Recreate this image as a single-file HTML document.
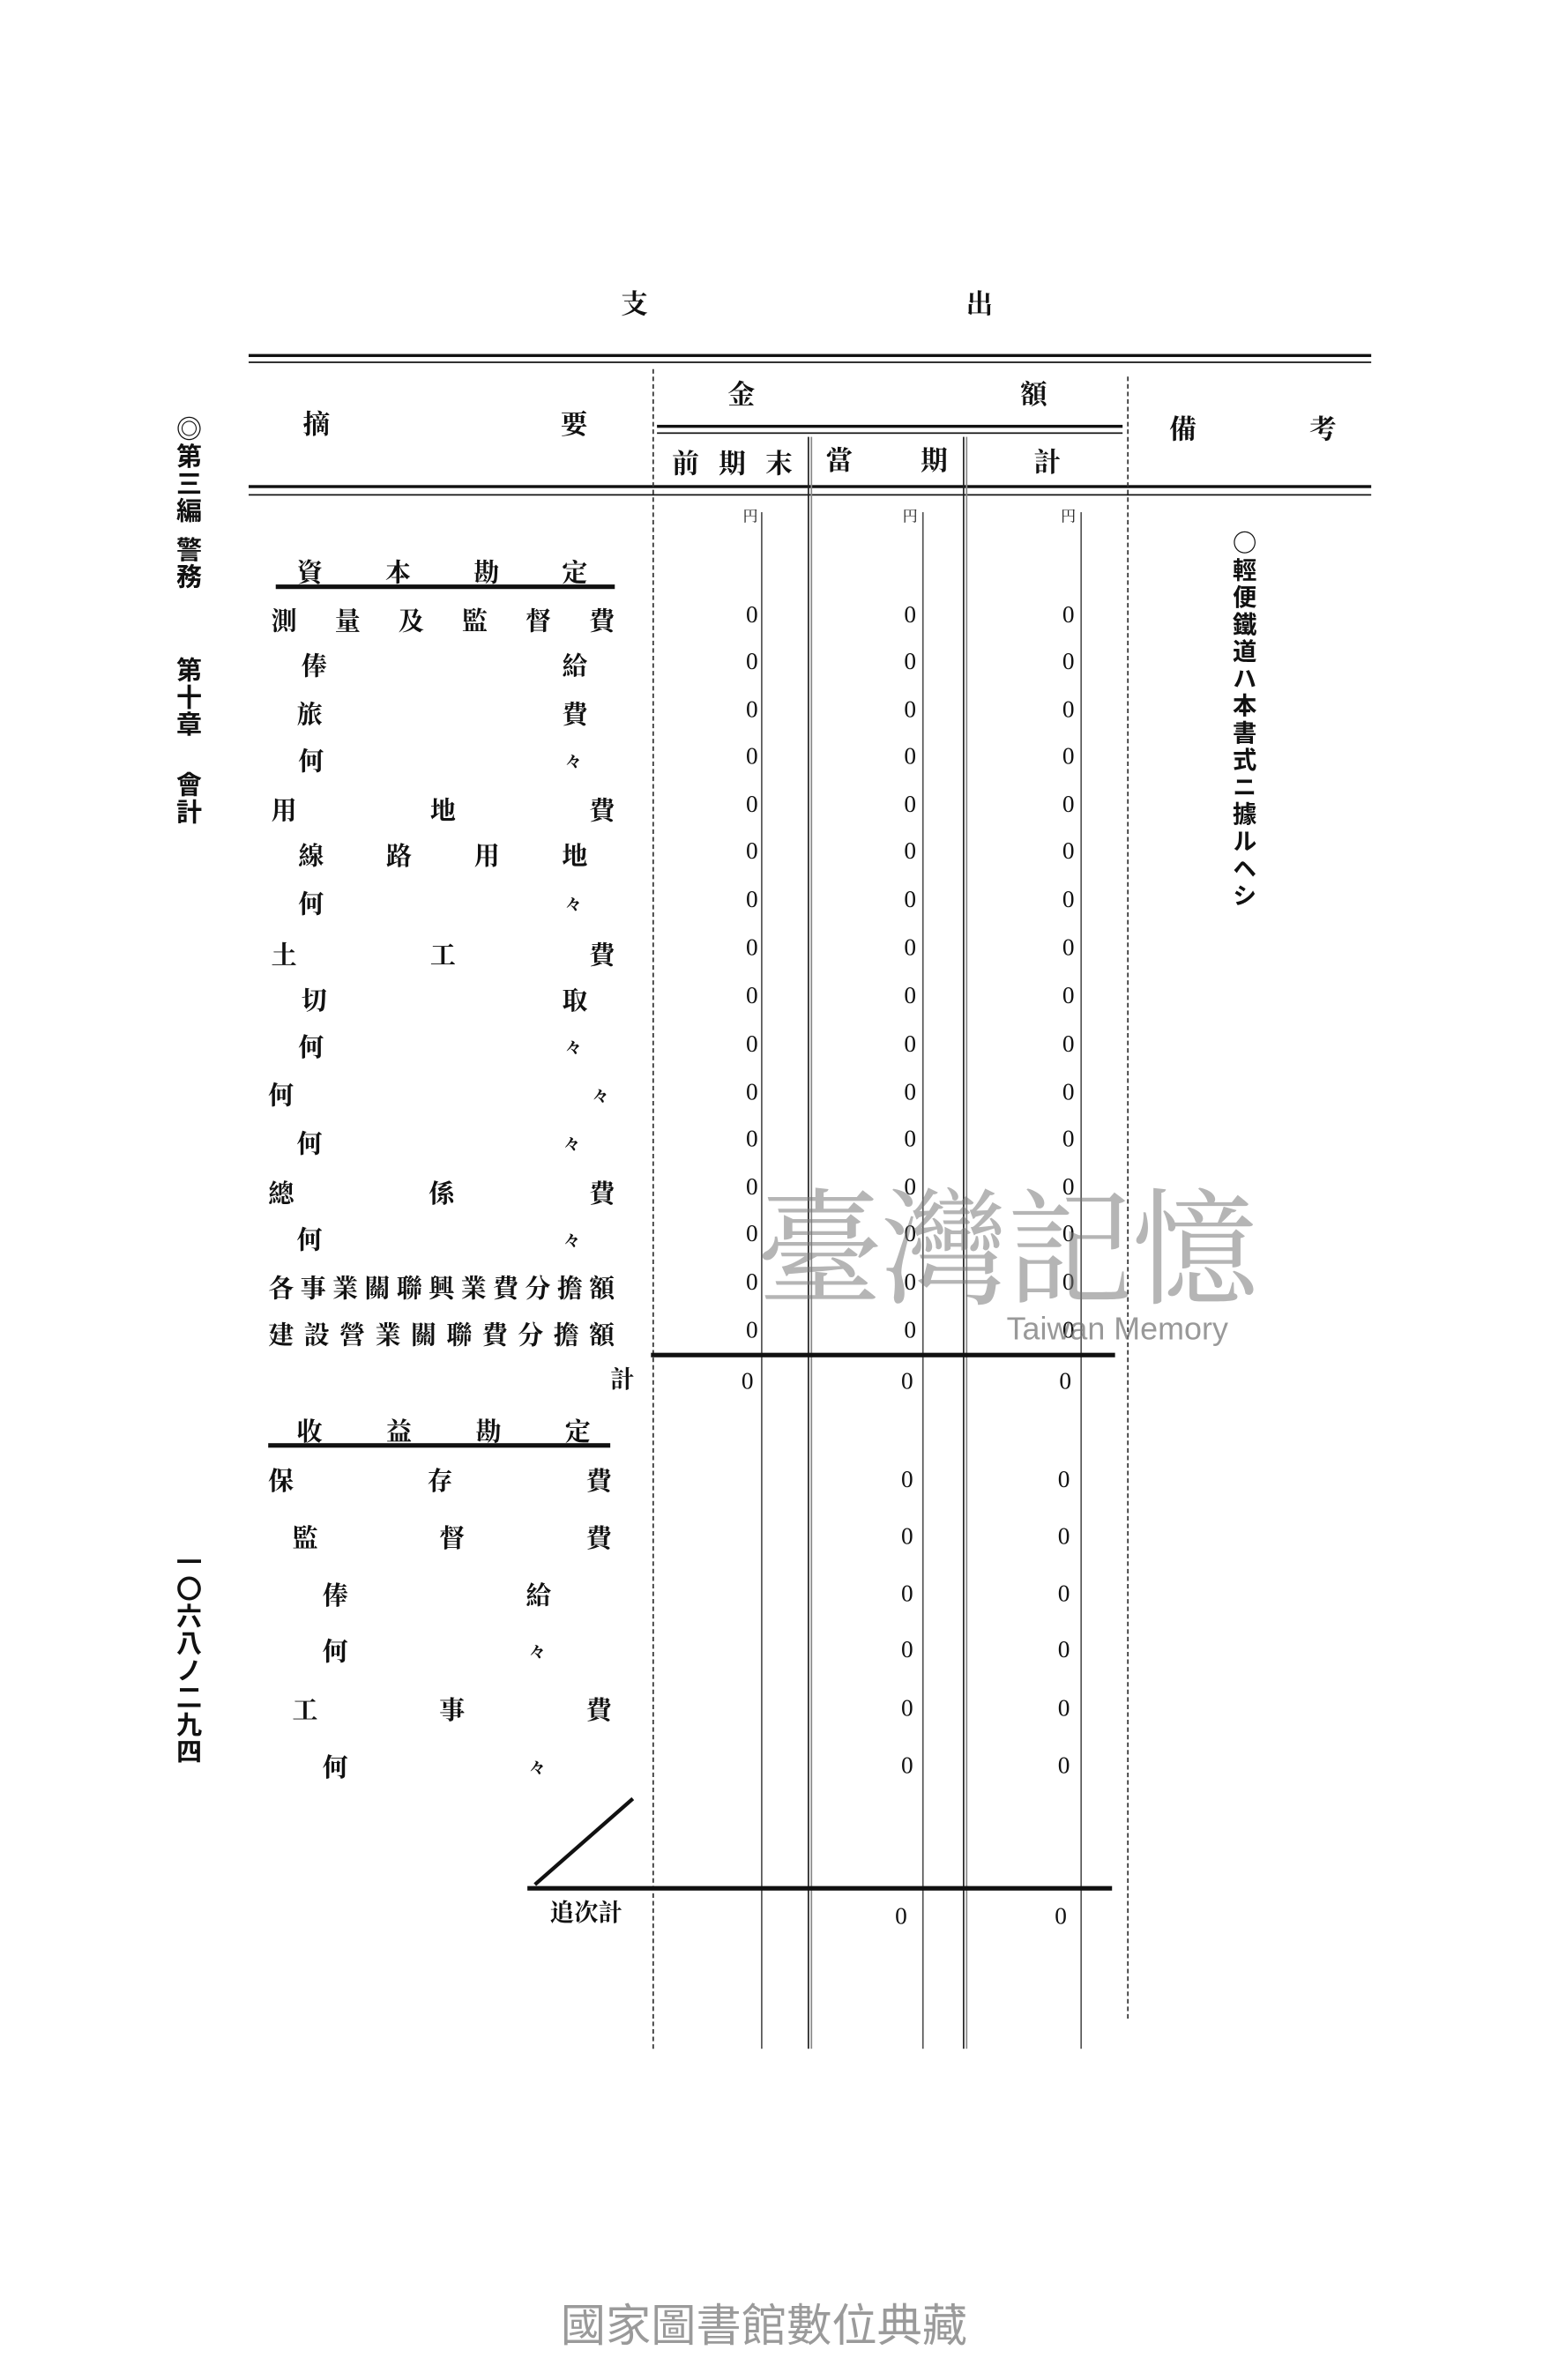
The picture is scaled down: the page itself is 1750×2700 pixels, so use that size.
<!DOCTYPE html>
<html><head><meta charset="utf-8">
<style>
html,body{margin:0;padding:0;background:#fff;}
body{width:1750px;height:2700px;overflow:hidden;position:relative;}
#w{position:absolute;left:0;top:0;width:1024px;height:1580px;transform:scale(1.70898);transform-origin:0 0;font-family:"Liberation Serif","Noto Serif CJK SC","Noto Sans CJK JP",serif;color:#111;}
.a{position:absolute;line-height:1;white-space:nowrap;}
.t{font-size:18px;font-weight:bold;}
.r{position:absolute;display:flex;justify-content:space-between;font-size:17px;font-weight:bold;line-height:20px;height:20px;margin-top:4px;}
.z{position:absolute;font-size:16px;line-height:18px;font-family:"Liberation Serif",serif;margin-top:3px;}
.h{position:absolute;background:#111;}
.v{position:absolute;width:1px;background:#222;}
.vd{position:absolute;width:0;border-left:1px dashed #333;}
.vt{position:absolute;writing-mode:vertical-rl;font-size:17px;font-weight:bold;line-height:1;letter-spacing:1px;font-family:"Noto Sans CJK JP",sans-serif;}
.y{position:absolute;font-size:10px;}
</style></head><body><div id="w">
<div class="a t" style="left:412px;top:193px">支</div>
<div class="a t" style="left:641px;top:193px">出</div>

<div class="h" style="left:165px;top:235px;width:745px;height:2px"></div>
<div class="h" style="left:165px;top:240px;width:745px;height:1px"></div>

<div class="a t" style="left:201px;top:273px">摘</div>
<div class="a t" style="left:372px;top:273px">要</div>
<div class="a t" style="left:483px;top:253px">金</div>
<div class="a t" style="left:677px;top:253px">額</div>
<div class="a t" style="left:776px;top:276px">備</div>
<div class="a t" style="left:869px;top:276px">考</div>
<div class="h" style="left:436px;top:282px;width:309px;height:2px"></div>
<div class="h" style="left:436px;top:287px;width:309px;height:1px"></div>
<div class="r" style="left:446px;top:294px;width:80px;font-size:18px">前<span>期</span><span>末</span></div>
<div class="a t" style="left:548px;top:297px">當</div>
<div class="a t" style="left:611px;top:297px">期</div>
<div class="a t" style="left:686px;top:298px">計</div>

<div class="h" style="left:165px;top:322px;width:745px;height:2px"></div>
<div class="h" style="left:165px;top:328px;width:745px;height:1px"></div>

<div class="vd" style="left:433px;top:245px;height:1115px"></div>
<div class="vd" style="left:748px;top:250px;height:1090px"></div>
<div class="v" style="left:536px;top:290px;height:1070px"></div>
<div class="v" style="left:538px;top:290px;height:1070px;background:#888"></div>
<div class="v" style="left:639px;top:290px;height:1070px"></div>
<div class="v" style="left:641px;top:290px;height:1070px;background:#888"></div>
<div class="v" style="left:505px;top:340px;height:1020px;background:#555"></div>
<div class="v" style="left:612px;top:340px;height:1020px;background:#555"></div>
<div class="v" style="left:717px;top:340px;height:1020px;background:#555"></div>

<div class="y" style="left:493px;top:334px">円</div>
<div class="y" style="left:599px;top:334px">円</div>
<div class="y" style="left:704px;top:334px">円</div>

<div class="r" style="left:197px;top:367px;width:193px">資<span>本</span><span>勘</span><span>定</span></div>
<div class="h" style="left:183px;top:388px;width:225px;height:3px"></div>
<div class="r" style="left:180px;top:399px;width:228px">測<span>量</span><span>及</span><span>監</span><span>督</span><span>費</span></div>
<div class="r" style="left:200px;top:429px;width:190px">俸<span>給</span></div>
<div class="r" style="left:197px;top:461px;width:193px">旅<span>費</span></div>
<div class="r" style="left:198px;top:492px;width:188px">何<span style="font-size:11px">々</span></div>
<div class="r" style="left:180px;top:525px;width:228px">用<span>地</span><span>費</span></div>
<div class="r" style="left:198px;top:555px;width:192px">線<span>路</span><span>用</span><span>地</span></div>
<div class="r" style="left:198px;top:587px;width:188px">何<span style="font-size:11px">々</span></div>
<div class="r" style="left:180px;top:621px;width:228px">土<span>工</span><span>費</span></div>
<div class="r" style="left:200px;top:651px;width:190px">切<span>取</span></div>
<div class="r" style="left:198px;top:682px;width:188px">何<span style="font-size:11px">々</span></div>
<div class="r" style="left:178px;top:714px;width:226px">何<span style="font-size:11px">々</span></div>
<div class="r" style="left:197px;top:746px;width:188px">何<span style="font-size:11px">々</span></div>
<div class="r" style="left:178px;top:779px;width:230px">總<span>係</span><span>費</span></div>
<div class="r" style="left:197px;top:810px;width:188px">何<span style="font-size:11px">々</span></div>
<div class="r" style="left:178px;top:842px;width:230px">各<span>事</span><span>業</span><span>關</span><span>聯</span><span>興</span><span>業</span><span>費</span><span>分</span><span>擔</span><span>額</span></div>
<div class="r" style="left:178px;top:873px;width:230px">建<span>設</span><span>營</span><span>業</span><span>關</span><span>聯</span><span>費</span><span>分</span><span>擔</span><span>額</span></div>

<div class="z" style="left:495px;top:397px">0</div><div class="z" style="left:600px;top:397px">0</div><div class="z" style="left:705px;top:397px">0</div>
<div class="z" style="left:495px;top:428px">0</div><div class="z" style="left:600px;top:428px">0</div><div class="z" style="left:705px;top:428px">0</div>
<div class="z" style="left:495px;top:460px">0</div><div class="z" style="left:600px;top:460px">0</div><div class="z" style="left:705px;top:460px">0</div>
<div class="z" style="left:495px;top:491px">0</div><div class="z" style="left:600px;top:491px">0</div><div class="z" style="left:705px;top:491px">0</div>
<div class="z" style="left:495px;top:523px">0</div><div class="z" style="left:600px;top:523px">0</div><div class="z" style="left:705px;top:523px">0</div>
<div class="z" style="left:495px;top:554px">0</div><div class="z" style="left:600px;top:554px">0</div><div class="z" style="left:705px;top:554px">0</div>
<div class="z" style="left:495px;top:586px">0</div><div class="z" style="left:600px;top:586px">0</div><div class="z" style="left:705px;top:586px">0</div>
<div class="z" style="left:495px;top:618px">0</div><div class="z" style="left:600px;top:618px">0</div><div class="z" style="left:705px;top:618px">0</div>
<div class="z" style="left:495px;top:650px">0</div><div class="z" style="left:600px;top:650px">0</div><div class="z" style="left:705px;top:650px">0</div>
<div class="z" style="left:495px;top:682px">0</div><div class="z" style="left:600px;top:682px">0</div><div class="z" style="left:705px;top:682px">0</div>
<div class="z" style="left:495px;top:714px">0</div><div class="z" style="left:600px;top:714px">0</div><div class="z" style="left:705px;top:714px">0</div>
<div class="z" style="left:495px;top:745px">0</div><div class="z" style="left:600px;top:745px">0</div><div class="z" style="left:705px;top:745px">0</div>
<div class="z" style="left:495px;top:777px">0</div><div class="z" style="left:600px;top:777px">0</div><div class="z" style="left:705px;top:777px">0</div>
<div class="z" style="left:495px;top:808px">0</div><div class="z" style="left:600px;top:808px">0</div><div class="z" style="left:705px;top:808px">0</div>
<div class="z" style="left:495px;top:840px">0</div><div class="z" style="left:600px;top:840px">0</div><div class="z" style="left:705px;top:840px">0</div>
<div class="z" style="left:495px;top:872px">0</div><div class="z" style="left:600px;top:872px">0</div><div class="z" style="left:705px;top:872px">0</div>

<div class="h" style="left:432px;top:898px;width:308px;height:3px"></div>
<div class="a t" style="left:405px;top:909px;font-size:16px">計</div>
<div class="z" style="left:492px;top:906px">0</div><div class="z" style="left:598px;top:906px">0</div><div class="z" style="left:703px;top:906px">0</div>

<div class="r" style="left:197px;top:937px;width:195px">收<span>益</span><span>勘</span><span>定</span></div>
<div class="h" style="left:178px;top:958px;width:227px;height:3px"></div>
<div class="r" style="left:178px;top:970px;width:228px">保<span>存</span><span>費</span></div>
<div class="r" style="left:194px;top:1008px;width:212px">監<span>督</span><span>費</span></div>
<div class="r" style="left:214px;top:1046px;width:152px">俸<span>給</span></div>
<div class="r" style="left:214px;top:1083px;width:148px">何<span style="font-size:11px">々</span></div>
<div class="r" style="left:194px;top:1122px;width:212px">工<span>事</span><span>費</span></div>
<div class="r" style="left:214px;top:1160px;width:148px">何<span style="font-size:11px">々</span></div>

<div class="z" style="left:598px;top:971px">0</div><div class="z" style="left:702px;top:971px">0</div>
<div class="z" style="left:598px;top:1009px">0</div><div class="z" style="left:702px;top:1009px">0</div>
<div class="z" style="left:598px;top:1047px">0</div><div class="z" style="left:702px;top:1047px">0</div>
<div class="z" style="left:598px;top:1084px">0</div><div class="z" style="left:702px;top:1084px">0</div>
<div class="z" style="left:598px;top:1123px">0</div><div class="z" style="left:702px;top:1123px">0</div>
<div class="z" style="left:598px;top:1161px">0</div><div class="z" style="left:702px;top:1161px">0</div>

<svg style="position:absolute;left:0;top:0" width="1024" height="1580"><line x1="420" y1="1194" x2="355" y2="1251" stroke="#111" stroke-width="2.5"/></svg>
<div class="h" style="left:350px;top:1252px;width:388px;height:3px"></div>
<div class="a t" style="left:365px;top:1263px;font-size:16px">追次計</div>
<div class="z" style="left:594px;top:1261px">0</div><div class="z" style="left:700px;top:1261px">0</div>

<div class="vt" style="left:117px;top:276px">◎第三編<span style="margin-top:8px">警務</span></div>
<div class="vt" style="left:117px;top:436px">第十章</div>
<div class="vt" style="left:117px;top:512px">會計</div>
<div class="vt" style="left:117px;top:1028px">一〇六八ノ二九四</div>

<div class="vt" style="left:818px;top:352px;font-size:16px;letter-spacing:2px">○輕便鐵道ハ本書式ニ據ルヘシ</div>

<div class="a" style="left:502px;top:782px;font-size:84px;color:rgba(120,120,120,0.55);font-family:'Noto Serif CJK SC',serif;letter-spacing:-1px">臺灣記憶</div>
<div class="a" style="left:668px;top:872px;font-size:21px;color:rgba(110,110,110,0.7);font-family:'Liberation Sans',sans-serif">Taiwan Memory</div>

<div class="a" style="left:372px;top:1530px;font-size:30px;color:#9a9a9a;font-family:'Liberation Sans','Noto Sans CJK TC',sans-serif">國家圖書館數位典藏</div>
</div></body></html>
